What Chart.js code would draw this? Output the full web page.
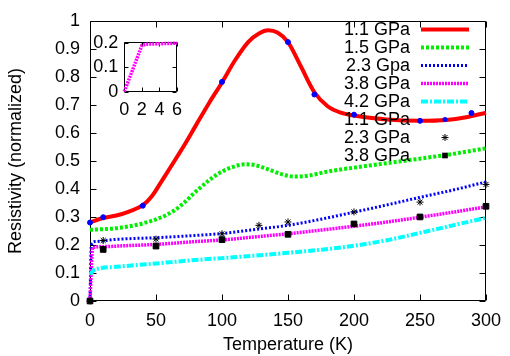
<!DOCTYPE html>
<html>
<head>
<meta charset="utf-8">
<script src="https://cdn.jsdelivr.net/npm/chart.js@4.4.1/dist/chart.umd.min.js"></script>
<style>
  body { margin: 0; background: #fff; }
  #wrap { position: relative; width: 510px; height: 356px; }
  #main { position: absolute; left: 0; top: 0; }
  #inset { position: absolute; left: 60px; top: 25px; }
</style>
</head>
<body>
<div id="wrap">
  <canvas id="main" width="510" height="356"></canvas>
  <canvas id="inset" width="130" height="100"></canvas>
</div>
<script>
// axis ticks
const xTicks = [0, 50, 100, 150, 200, 250, 300];
const yTicks = [0, 0.1, 0.2, 0.3, 0.4, 0.5, 0.6, 0.7, 0.8, 0.9, 1];
const yTickLabels = ["0", "0.1", "0.2", "0.3", "0.4", "0.5", "0.6", "0.7", "0.8", "0.9", "1"];
const insetXTicks = [0, 2, 4, 6];
const insetYTicks = [0, 0.1, 0.2];
const insetYTickLabels = ["0", "0.1", "0.2"];

// curves: temperature (K) / normalized resistivity
const t11 = [0, 10, 20, 30, 40, 47, 53, 60, 70, 80, 90, 100, 110, 120, 128, 135, 142, 150, 160, 170, 180, 190, 200, 225, 250, 270, 285, 300];
const r11 = [0.281, 0.296, 0.305, 0.32, 0.342, 0.375, 0.418, 0.47, 0.545, 0.625, 0.705, 0.78, 0.86, 0.925, 0.955, 0.966, 0.958, 0.924, 0.835, 0.745, 0.695, 0.672, 0.662, 0.648, 0.643, 0.646, 0.656, 0.672];

const t15 = [0, 20, 40, 60, 70, 80, 90, 100, 110, 118, 125, 135, 145, 155, 165, 180, 200, 225, 250, 275, 300];
const r15 = [0.254, 0.26, 0.277, 0.312, 0.345, 0.39, 0.43, 0.462, 0.481, 0.488, 0.485, 0.47, 0.453, 0.444, 0.447, 0.462, 0.476, 0.492, 0.508, 0.525, 0.545];

const t23 = [0, 1, 4, 20, 50, 80, 100, 130, 150, 175, 200, 225, 250, 275, 300];
const r23 = [0, 0.2, 0.212, 0.22, 0.226, 0.234, 0.241, 0.258, 0.27, 0.292, 0.317, 0.343, 0.37, 0.396, 0.425];

const t38 = [0, 2, 10, 25, 50, 80, 100, 130, 150, 175, 200, 225, 250, 275, 300];
const r38 = [0, 0.19, 0.194, 0.197, 0.202, 0.212, 0.218, 0.231, 0.24, 0.253, 0.267, 0.282, 0.299, 0.317, 0.336];

const t42 = [0, 3, 8, 20, 50, 82, 100, 125, 150, 175, 200, 225, 250, 275, 300];
const r42 = [0.095, 0.11, 0.117, 0.122, 0.134, 0.147, 0.153, 0.162, 0.172, 0.183, 0.197, 0.217, 0.243, 0.27, 0.297];

// measured points
const pt11 = [0, 10, 40, 100, 150, 170, 200, 250, 289];
const pr11 = [0.28, 0.299, 0.34, 0.782, 0.924, 0.737, 0.665, 0.643, 0.671];
const pt23 = [0, 10, 50, 100, 128, 150, 200, 250, 300];
const pr23 = [0, 0.216, 0.221, 0.24, 0.27, 0.282, 0.318, 0.353, 0.416];
const pt38 = [0, 10, 50, 100, 150, 200, 250, 300];
const pr38 = [0, 0.184, 0.196, 0.219, 0.238, 0.275, 0.3, 0.338];

// inset: low temperature 3.8 GPa
const tInset = [0, 2, 2.5, 4, 6];
const rInset = [0, 0.19, 0.195, 0.197, 0.199];

const pts = (xs, ys) => xs.map((x, i) => ({ x, y: ys[i] }));

Chart.defaults.font.family = "'Liberation Sans', Arial, sans-serif";
Chart.defaults.font.size = 18;
Chart.defaults.color = "#000";

// gnuplot-like box with inward ticks on all four sides
const framePlugin = (len) => ({
  id: "frame",
  beforeDatasetsDraw(chart) {
    const { ctx, chartArea: a, scales: { x, y } } = chart;
    const L = Math.round(a.left) + 0.5, R = Math.round(a.right) - 0.5;
    const T = Math.round(a.top) + 0.5, B = Math.round(a.bottom) - 0.5;
    ctx.save();
    ctx.strokeStyle = "#000";
    ctx.lineWidth = 1;
    ctx.beginPath();
    ctx.rect(L, T, R - L, B - T);
    x.ticks.forEach((t) => {
      const px = Math.round(x.getPixelForValue(t.value)) + 0.5;
      ctx.moveTo(px, B); ctx.lineTo(px, B - len);
      ctx.moveTo(px, T); ctx.lineTo(px, T + len);
    });
    y.ticks.forEach((t) => {
      const py = Math.round(y.getPixelForValue(t.value)) + 0.5;
      ctx.moveTo(L, py); ctx.lineTo(L + len, py);
      ctx.moveTo(R, py); ctx.lineTo(R - len, py);
    });
    ctx.stroke();
    ctx.restore();
  },
});

// key: text right aligned, sample to the right
const keyPlugin = {
  id: "key",
  afterDraw(chart) {
    const ctx = chart.ctx;
    const sx = 445;
    ctx.save();
    ctx.font = "18px 'Liberation Sans', Arial, sans-serif";
    ctx.textAlign = "right";
    ctx.textBaseline = "middle";
    chart.data.datasets.forEach((ds, i) => {
      const yy = 29.5 + 18 * i;
      ctx.fillStyle = "#000";
      ctx.fillText(ds.label, 410, yy + 1);
      ctx.fillStyle = ds.backgroundColor;
      ctx.strokeStyle = ds.borderColor;
      ctx.lineWidth = ds.borderWidth;
      ctx.beginPath();
      if (ds.showLine) {
        ctx.setLineDash(ds.borderDash || []);
        ctx.moveTo(421, yy); ctx.lineTo(469, yy);
        ctx.stroke();
        ctx.setLineDash([]);
      } else if (ds.pointStyle === "circle") {
        ctx.arc(sx, yy, ds.pointRadius, 0, Math.PI * 2);
        ctx.fill();
      } else if (ds.pointStyle === "star") {
        const r = ds.pointRadius, d = r * Math.SQRT1_2;
        ctx.moveTo(sx - r, yy); ctx.lineTo(sx + r, yy);
        ctx.moveTo(sx, yy - r); ctx.lineTo(sx, yy + r);
        ctx.moveTo(sx - d, yy - d); ctx.lineTo(sx + d, yy + d);
        ctx.moveTo(sx - d, yy + d); ctx.lineTo(sx + d, yy - d);
        ctx.stroke();
      } else {
        const h = ds.pointRadius * Math.SQRT1_2;
        ctx.fillRect(sx - h, yy - h, 2 * h, 2 * h);
      }
    });
    ctx.restore();
  },
};

const lineSet = (label, data, color, width, dash, order) => ({
  label, data, showLine: true, borderColor: color, borderWidth: width, borderDash: dash,
  pointRadius: 0, cubicInterpolationMode: "monotone", clip: false, order,
  borderCapStyle: "butt", fill: false,
});
const pointSet = (label, data, color, style, radius, order) => ({
  label, data, showLine: false, pointStyle: style, pointRadius: radius,
  backgroundColor: color, borderColor: color, borderWidth: 1, clip: false, order,
});

new Chart(document.getElementById("main"), {
  type: "scatter",
  data: {
    datasets: [
      lineSet("1.1 GPa", pts(t11, r11), "#ff0000", 4, [], 8),
      lineSet("1.5 GPa", pts(t15, r15), "#00ee00", 4, [3, 2], 7),
      lineSet("2.3 Gpa", pts(t23, r23), "#0000ff", 3, [2, 2], 6),
      lineSet("3.8 GPa", pts(t38, r38), "#ff00ff", 3.5, [2, 1], 5),
      lineSet("4.2 GPa", pts(t42, r42), "#00ffff", 4, [7, 2, 2, 2], 4),
      pointSet("1.1 GPa", pts(pt11, pr11), "#0000ff", "circle", 2.5, 3),
      pointSet("2.3 GPa", pts(pt23, pr23), "#000000", "star", 3.5, 2),
      pointSet("3.8 GPa", pts(pt38, pr38), "#000000", "rect", 4, 1),
    ],
  },
  options: {
    responsive: false,
    animation: false,
    layout: { padding: { left: 0, right: 19, top: 15, bottom: 0 } },
    plugins: { legend: { display: false }, tooltip: { enabled: false } },
    scales: {
      x: {
        type: "linear", min: 0, max: 300,
        grid: { display: false, drawTicks: false }, border: { display: false },
        afterBuildTicks: (s) => { s.ticks = xTicks.map((v) => ({ value: v })); },
        afterFit: (s) => { s.height = 55; },
        ticks: { padding: 9, maxRotation: 0, callback: (v) => String(v) },
        title: { display: true, text: "Temperature (K)", padding: { top: 0, bottom: 0 } },
      },
      y: {
        type: "linear", min: 0, max: 1,
        grid: { display: false, drawTicks: false }, border: { display: false },
        afterBuildTicks: (s) => { s.ticks = yTicks.map((v) => ({ value: v })); },
        afterFit: (s) => { s.width = 90; },
        ticks: { padding: 10, callback: (v, i) => yTickLabels[i] },
        title: { display: true, text: "Resistivity (normalized)", padding: { top: 5, bottom: 0 } },
      },
    },
  },
  plugins: [framePlugin(6), keyPlugin],
});

const insetLine = lineSet("3.8 GPa", pts(tInset, rInset), "#ff00ff", 3.5, [2, 1], 1);
insetLine.cubicInterpolationMode = "default";
insetLine.tension = 0;

new Chart(document.getElementById("inset"), {
  type: "scatter",
  data: { datasets: [insetLine] },
  options: {
    responsive: false,
    animation: false,
    layout: { padding: { left: 0, right: 12.7, top: 16, bottom: 0 } },
    plugins: { legend: { display: false }, tooltip: { enabled: false } },
    scales: {
      x: {
        type: "linear", min: 0, max: 6,
        grid: { display: false, drawTicks: false }, border: { display: false },
        afterBuildTicks: (s) => { s.ticks = insetXTicks.map((v) => ({ value: v })); },
        afterFit: (s) => { s.height = 33.3; },
        ticks: { padding: 8, maxRotation: 0, callback: (v) => String(v) },
      },
      y: {
        type: "linear", min: 0, max: 0.205,
        grid: { display: false, drawTicks: false }, border: { display: false },
        afterBuildTicks: (s) => { s.ticks = insetYTicks.map((v) => ({ value: v })); },
        afterFit: (s) => { s.width = 64.3; },
        ticks: { padding: 6, callback: (v, i) => insetYTickLabels[i] },
      },
    },
  },
  plugins: [framePlugin(4)],
});
</script>
</body>
</html>
